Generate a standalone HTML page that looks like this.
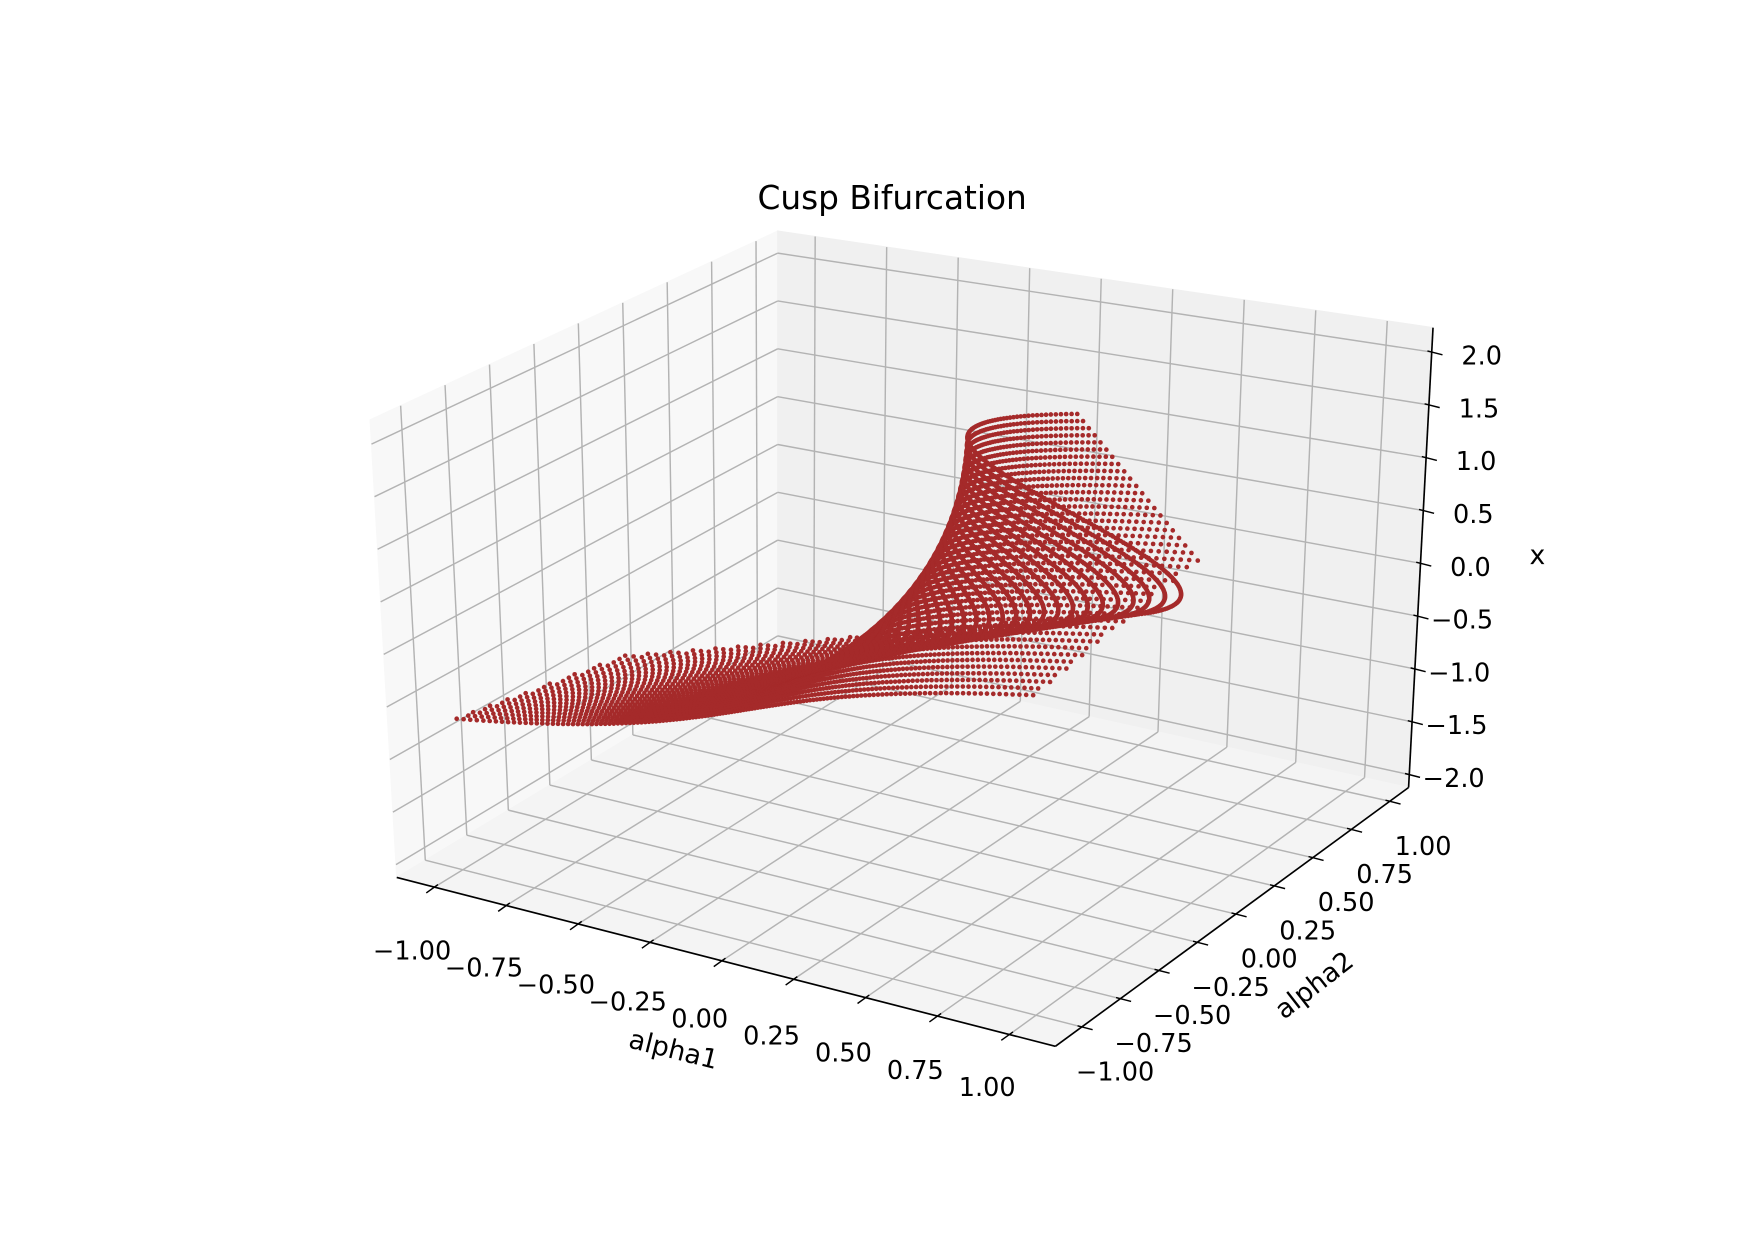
<!DOCTYPE html>
<html><head><meta charset="utf-8"><title>Cusp Bifurcation</title>
<style>html,body{margin:0;padding:0;background:#fff}svg{display:block}text{font-family:"DejaVu Sans","Liberation Sans",sans-serif;fill:#000}</style>
</head><body>
<svg id="chart" width="1742" height="1244" viewBox="0 0 1568 1120" xmlns="http://www.w3.org/2000/svg">
<g id="panes"></g>
<g id="grid"></g>
<g id="axes"></g>
<g id="ticks"></g>
<g id="pts"></g>
<text x="803" y="188" font-size="29.5" text-anchor="middle">Cusp Bifurcation</text>
<text x="606" y="953" font-size="24" text-anchor="middle" transform="rotate(14 606 946)">alpha1</text>
<text x="1183" y="895" font-size="24" text-anchor="middle" transform="rotate(-38 1183 887)">alpha2</text>
<text x="1384" y="508" font-size="24" text-anchor="middle">x</text>
</svg>
<script>
const alpha1Ticks = [-1.00, -0.75, -0.50, -0.25, 0.00, 0.25, 0.50, 0.75, 1.00];
const alpha1TickLabels = ["\u22121.00","\u22120.75","\u22120.50","\u22120.25","0.00","0.25","0.50","0.75","1.00"];
const alpha2Ticks = [-1.00, -0.75, -0.50, -0.25, 0.00, 0.25, 0.50, 0.75, 1.00];
const alpha2TickLabels = ["\u22121.00","\u22120.75","\u22120.50","\u22120.25","0.00","0.25","0.50","0.75","1.00"];
const zTicks = [-2.0, -1.5, -1.0, -0.5, 0.0, 0.5, 1.0, 1.5, 2.0];
const zTickLabels = ["\u22122.0","\u22121.5","\u22121.0","\u22120.5","0.0","0.5","1.0","1.5","2.0"];
const alpha2Rows = [-1.00,-0.95,-0.90,-0.85,-0.80,-0.75,-0.70,-0.65,-0.60,-0.55,-0.50,-0.45,-0.40,-0.35,-0.30,-0.25,-0.20,-0.15,-0.10,-0.05,0.00,0.05,0.10,0.15,0.20,0.25,0.30,0.35,0.40,0.45,0.50,0.55,0.60,0.65,0.70,0.75,0.80,0.85,0.90,0.95,1.00];
const xSamples = [-1.00,-0.99,-0.98,-0.97,-0.96,-0.95,-0.94,-0.93,-0.92,-0.91,-0.90,-0.89,-0.88,-0.87,-0.86,-0.85,-0.84,-0.83,-0.82,-0.81,-0.80,-0.79,-0.78,-0.77,-0.76,-0.75,-0.74,-0.73,-0.72,-0.71,-0.70,-0.69,-0.68,-0.67,-0.66,-0.65,-0.64,-0.63,-0.62,-0.61,-0.60,-0.59,-0.58,-0.57,-0.56,-0.55,-0.54,-0.53,-0.52,-0.51,-0.50,-0.49,-0.48,-0.47,-0.46,-0.45,-0.44,-0.43,-0.42,-0.41,-0.40,-0.39,-0.38,-0.37,-0.36,-0.35,-0.34,-0.33,-0.32,-0.31,-0.30,-0.29,-0.28,-0.27,-0.26,-0.25,-0.24,-0.23,-0.22,-0.21,-0.20,-0.19,-0.18,-0.17,-0.16,-0.15,-0.14,-0.13,-0.12,-0.11,-0.10,-0.09,-0.08,-0.07,-0.06,-0.05,-0.04,-0.03,-0.02,-0.01,0.00,0.01,0.02,0.03,0.04,0.05,0.06,0.07,0.08,0.09,0.10,0.11,0.12,0.13,0.14,0.15,0.16,0.17,0.18,0.19,0.20,0.21,0.22,0.23,0.24,0.25,0.26,0.27,0.28,0.29,0.30,0.31,0.32,0.33,0.34,0.35,0.36,0.37,0.38,0.39,0.40,0.41,0.42,0.43,0.44,0.45,0.46,0.47,0.48,0.49,0.50,0.51,0.52,0.53,0.54,0.55,0.56,0.57,0.58,0.59,0.60,0.61,0.62,0.63,0.64,0.65,0.66,0.67,0.68,0.69,0.70,0.71,0.72,0.73,0.74,0.75,0.76,0.77,0.78,0.79,0.80,0.81,0.82,0.83,0.84,0.85,0.86,0.87,0.88,0.89,0.90,0.91,0.92,0.93,0.94,0.95,0.96,0.97,0.98,0.99,1.00];

const NS = "http://www.w3.org/2000/svg";
const A=[357,790],B=[950,942],C=[1268,709],D=[700,583];
const A2=[333,378],B2=[948,489],C2=[1290,295],D2=[700,208];
const a1Min=-1.131,a1Max=1.160,a2Min=-1.172,a2Max=1.122,zMin=-2.122,zMax=2.231;
function lerp(p,q,t){return [p[0]+(q[0]-p[0])*t,p[1]+(q[1]-p[1])*t];}
function P(a1,a2,z){
  const u=(a1-a1Min)/(a1Max-a1Min), v=(a2-a2Min)/(a2Max-a2Min), w=(z-zMin)/(zMax-zMin);
  const bot=lerp(lerp(A,B,u),lerp(D,C,u),v);
  const top=lerp(lerp(A2,B2,u),lerp(D2,C2,u),v);
  return lerp(bot,top,w);
}
function mk(tag,attrs,parent){const e=document.createElementNS(NS,tag);for(const k in attrs)e.setAttribute(k,attrs[k]);parent.appendChild(e);return e;}
const panes=document.getElementById('panes'),grid=document.getElementById('grid'),axes=document.getElementById('axes'),ticks=document.getElementById('ticks'),pts=document.getElementById('pts');
function poly(ps,fill,name){
  const e=mk('polygon',{points:ps.map(p=>p.join(',')).join(' '),fill:fill,stroke:fill,'stroke-width':1},panes);
  
  
}
poly([A,D,D2,A2],'#f8f8f8','left-pane');
poly([D,C,C2,D2],'#f0f0f0','back-pane');
poly([A,B,C,D],'#f4f4f4','floor-pane');
function line(p,q,parent,color,w,name){
  const e=mk('line',{x1:p[0],y1:p[1],x2:q[0],y2:q[1],stroke:color,'stroke-width':w},parent);
  
  
  return e;
}
const G='#b3b3b3',GW=1.3;
alpha1Ticks.forEach(t=>{line(P(t,a2Min,zMin),P(t,a2Max,zMin),grid,G,GW,'grid-alpha1-floor');line(P(t,a2Max,zMin),P(t,a2Max,zMax),grid,G,GW,'grid-alpha1-back');});
alpha2Ticks.forEach(t=>{line(P(a1Min,t,zMin),P(a1Max,t,zMin),grid,G,GW,'grid-alpha2-floor');line(P(a1Min,t,zMin),P(a1Min,t,zMax),grid,G,GW,'grid-alpha2-left');});
zTicks.forEach(t=>{line(P(a1Min,a2Min,t),P(a1Min,a2Max,t),grid,G,GW,'grid-z-left');line(P(a1Min,a2Max,t),P(a1Max,a2Max,t),grid,G,GW,'grid-z-back');});
line(A,B,axes,'#000',1.5,'alpha1-axis-line');
line(B,C,axes,'#000',1.5,'alpha2-axis-line');
line(C,C2,axes,'#000',1.5,'z-axis-line');
const dA1=[0.969,0.248],dA2=[0.811,-0.584];
function label(txt,x,y,name){
  const e=mk('text',{x:x,y:y,'font-size':23,'text-anchor':'middle','dominant-baseline':'central'},ticks);
  e.textContent=txt;
  
  
}
alpha1Ticks.forEach((t,i)=>{const p=P(t,a2Min,zMin);
  line([p[0]-dA2[0]*9,p[1]-dA2[1]*9],[p[0]+dA2[0]*4,p[1]+dA2[1]*4],axes,'#000',1.3,'alpha1-tick');
  const f=i/(alpha1Ticks.length-1);
  label(alpha1TickLabels[i],p[0]-20,p[1]+58-10*f,'alpha1-tick-label');});
alpha2Ticks.forEach((t,i)=>{const p=P(a1Max,t,zMin);
  line([p[0]-dA1[0]*4,p[1]-dA1[1]*4],[p[0]+dA1[0]*10,p[1]+dA1[1]*10],axes,'#000',1.3,'alpha2-tick');
  label(alpha2TickLabels[i],p[0]+30,p[1]+41,'alpha2-tick-label');});
zTicks.forEach((t,i)=>{const p=P(a1Max,a2Max,t);
  line([p[0]-dA1[0]*4,p[1]-dA1[1]*4],[p[0]+dA1[0]*10,p[1]+dA1[1]*10],axes,'#000',1.3,'z-tick');
  label(zTickLabels[i],p[0]+(zTickLabels[i].length>3?40:45),p[1]+4,'z-tick-label');});
alpha2Rows.forEach(a2=>{
  xSamples.forEach(x=>{
    const a1=x*x*x-a2*x;
    if(Math.abs(a1)>1.0001)return;
    const p=P(a1,a2,x);
    const c=mk('circle',{cx:p[0].toFixed(1),cy:p[1].toFixed(1),r:2.1,fill:'#a52a2a'},pts);
    
    
  });
});
</script>
</body></html>
